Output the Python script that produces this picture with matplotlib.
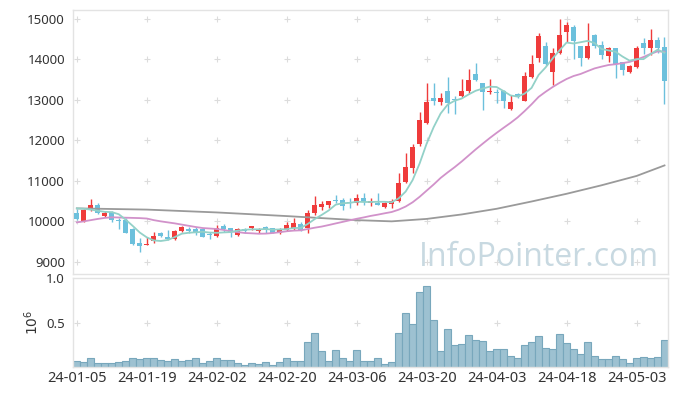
import numpy as np
import pandas as pd
import matplotlib
matplotlib.use("Agg")
import matplotlib.pyplot as plt

# trading days (KRX calendar)
dates = pd.bdate_range("2024-01-05", "2024-05-10")
holidays = pd.to_datetime(["2024-02-09", "2024-02-12", "2024-03-01",
                           "2024-04-10", "2024-05-01", "2024-05-06"])
dates = dates[~dates.isin(holidays)]

opens = [10217, 10011, 10282, 10405, 10143, 10241, 10036, 10036, 9805, 9477,
         9420, 9518, 9723, 9608, 9559, 9756, 9806, 9806, 9806, 9682,
         9641, 9896, 9830, 9658, 9806, 9847, 9764, 9871, 9830, 9723,
         9789, 9830, 9929, 9830, 10200, 10364, 10406, 10521, 10529, 10480,
         10447, 10570, 10447, 10455, 10365, 10438, 10512, 10981, 11326, 11902,
         12436, 13053, 12954, 13217, 13020, 13094, 13217, 13636, 13422, 13200,
         13200, 13225, 12773, 13143, 12979, 13554, 14022, 14327, 13694, 14146,
         14680, 14787, 14327, 14039, 14598, 14351, 14088, 14286, 13924, 13694,
         13817, 14400, 14286, 14483, 14310]
highs = [10315, 10315, 10545, 10463, 10266, 10266, 10077, 10077, 9830, 9584,
         9625, 9748, 9748, 9789, 9789, 9896, 9863, 9871, 9830, 9748,
         9912, 9929, 9830, 9830, 9830, 9896, 9830, 9896, 9830, 9830,
         9995, 10077, 9995, 10282, 10628, 10512, 10504, 10652, 10586, 10586,
         10677, 10693, 10586, 10693, 10471, 10545, 11186, 11680, 11902, 12707,
         13406, 13406, 13160, 13570, 13094, 13505, 13751, 13916, 13422, 13505,
         13266, 13241, 13118, 13160, 13694, 14105, 14639, 14434, 14269, 14992,
         14910, 14844, 14327, 14885, 14614, 14450, 14310, 14286, 13940, 13858,
         14335, 14516, 14746, 14557, 14540]
lows = [10036, 9995, 10265, 10184, 10118, 9995, 9806, 9707, 9419, 9239,
        9411, 9469, 9625, 9543, 9543, 9748, 9723, 9666, 9608, 9559,
        9625, 9748, 9608, 9641, 9723, 9789, 9723, 9723, 9707, 9691,
        9773, 9789, 9773, 9723, 10159, 10282, 10340, 10447, 10282, 10324,
        10414, 10406, 10389, 10406, 10324, 10340, 10488, 10948, 11187, 11869,
        12395, 12872, 12880, 12666, 12650, 13061, 13176, 13472, 12748, 13143,
        12913, 12790, 12749, 13036, 12979, 13529, 13940, 13858, 13365, 14121,
        14433, 14006, 13842, 14006, 14286, 13998, 13940, 13546, 13612, 13661,
        13793, 14138, 14097, 14146, 12889]
closes = [10069, 10282, 10405, 10200, 10217, 10036, 10020, 9723, 9436, 9403,
          9444, 9641, 9650, 9567, 9756, 9863, 9756, 9707, 9625, 9666,
          9830, 9806, 9748, 9806, 9773, 9880, 9806, 9789, 9723, 9806,
          9912, 9953, 9789, 10217, 10406, 10430, 10504, 10504, 10389, 10455,
          10570, 10471, 10504, 10414, 10455, 10512, 10948, 11343, 11836, 12502,
          12954, 12978, 13036, 12929, 12987, 13217, 13488, 13488, 13200, 13225,
          13176, 12979, 12954, 13061, 13587, 13883, 14573, 13883, 14162, 14598,
          14844, 14458, 14039, 14327, 14335, 14105, 14286, 13875, 13735, 13833,
          14286, 14286, 14483, 14286, 13464]
volumes = [0.067, 0.056, 0.10, 0.045, 0.045, 0.045, 0.056, 0.067, 0.11, 0.09,
           0.11, 0.10, 0.08, 0.067, 0.09, 0.067, 0.08, 0.10, 0.045, 0.067,
           0.10, 0.08, 0.08, 0.045, 0.022, 0.045, 0.034, 0.056, 0.022, 0.056,
           0.11, 0.067, 0.067, 0.28, 0.39, 0.18, 0.067, 0.19, 0.10, 0.067,
           0.19, 0.067, 0.067, 0.10, 0.034, 0.056, 0.38, 0.61, 0.49, 0.85,
           0.91, 0.53, 0.18, 0.43, 0.25, 0.26, 0.36, 0.31, 0.29, 0.18,
           0.21, 0.21, 0.13, 0.10, 0.25, 0.28, 0.35, 0.22, 0.21, 0.37,
           0.27, 0.20, 0.15, 0.28, 0.13, 0.09, 0.09, 0.13, 0.09, 0.045,
           0.10, 0.12, 0.11, 0.12, 0.31]

# moving average values before enough history is visible
ma5_head = [10320, 10310, 10290, 10260]
ma20_head = [9975, 10000, 10030, 10060, 10085, 10100, 10095, 10090, 10085, 10080,
             10070, 10030, 10000, 9975, 9950, 9920, 9890, 9860, 9835]
# long moving average
ma120_idx = [0, 10, 20, 30, 40, 45, 50, 55, 60, 65, 70, 75, 80, 84]
ma120_val = [10320, 10290, 10220, 10130, 10030, 10000, 10060, 10170, 10310,
             10490, 10680, 10890, 11120, 11380]

C_UP = "#ef3b3b"
C_DOWN = "#6cc0dc"

idx = np.arange(len(dates))
close_s = pd.Series(closes, dtype=float)
ma5 = close_s.rolling(5).mean().to_numpy()
ma5[:len(ma5_head)] = ma5_head
ma20 = close_s.rolling(20).mean().to_numpy()
ma20[:len(ma20_head)] = ma20_head

plt.rcParams["font.family"] = ["Noto Sans", "DejaVu Sans"]

fig = plt.figure(figsize=(6.77, 3.96), dpi=100)
ax1 = fig.add_axes([0.1083, 0.308, 0.8784, 0.6667])
ax2 = fig.add_axes([0.1083, 0.0725, 0.8784, 0.2247])

xticks = np.arange(0, len(dates), 10)
yticks = np.arange(9000, 15001, 1000)
gx, gy = np.meshgrid(xticks, yticks)
ax1.plot(gx.ravel(), gy.ravel(), "+", color="#dcdcdc", ms=5, mew=0.8, zorder=0)

# candles
for i in idx:
    o, h, l, c = opens[i], highs[i], lows[i], closes[i]
    col = C_UP if c >= o else C_DOWN
    ax1.vlines(i, l, h, color=col, lw=1.0, zorder=2)
    ax1.bar(i, max(abs(c - o), 12), bottom=min(o, c), width=0.72,
            color=col, zorder=3)

ax1.plot(ma120_idx, ma120_val, color="#9a9a9a", lw=1.3, zorder=4)
ax1.plot(idx, ma20, color="#d192ca", lw=1.3, zorder=4)
ax1.plot(idx, ma5, color="#93d1c8", lw=1.3, zorder=4)

ax1.text(0.985, 0.0, "InfoPointer.com", transform=ax1.transAxes,
         ha="right", va="bottom", fontsize=23, color="#c8d9e1",
         family="Open Sans", zorder=1)

ax1.set_xlim(-0.5, len(dates) - 0.5)
ax1.set_ylim(8700, 15215)
ax1.set_yticks(yticks)
ax1.set_xticks(xticks)
ax1.tick_params(axis="x", labelbottom=False, length=0)
ax1.tick_params(axis="y", length=0, pad=6, labelsize=9.5, labelcolor="#333333")

# volume
vx, vy = np.meshgrid(xticks, [0.5])
ax2.plot(vx.ravel(), vy.ravel(), "+", color="#dcdcdc", ms=5, mew=0.8, zorder=0)
ax2.bar(idx, volumes, width=1.0, color="#9dc1d1", edgecolor="#78a7bc",
        lw=0.8, zorder=2)
ax2.set_xlim(-0.5, len(dates) - 0.5)
ax2.set_ylim(0, 1.0)
ax2.set_yticks([0.5, 1.0])
ax2.set_yticklabels(["0.5", "1.0"])
ax2.set_xticks(xticks)
ax2.set_xticklabels([dates[i].strftime("%y-%m-%d") for i in xticks])
ax2.tick_params(axis="x", length=0, pad=3, labelsize=10.5, labelcolor="#333333")
ax2.tick_params(axis="y", length=0, pad=6, labelsize=9.5, labelcolor="#333333")
ax2.set_ylabel(r"$10^6$", fontsize=10, color="#333333", labelpad=3)

for ax in (ax1, ax2):
    for sp in ax.spines.values():
        sp.set_color("#e3e3e3")
        sp.set_linewidth(1.0)

fig.savefig("out.png", dpi=100)
